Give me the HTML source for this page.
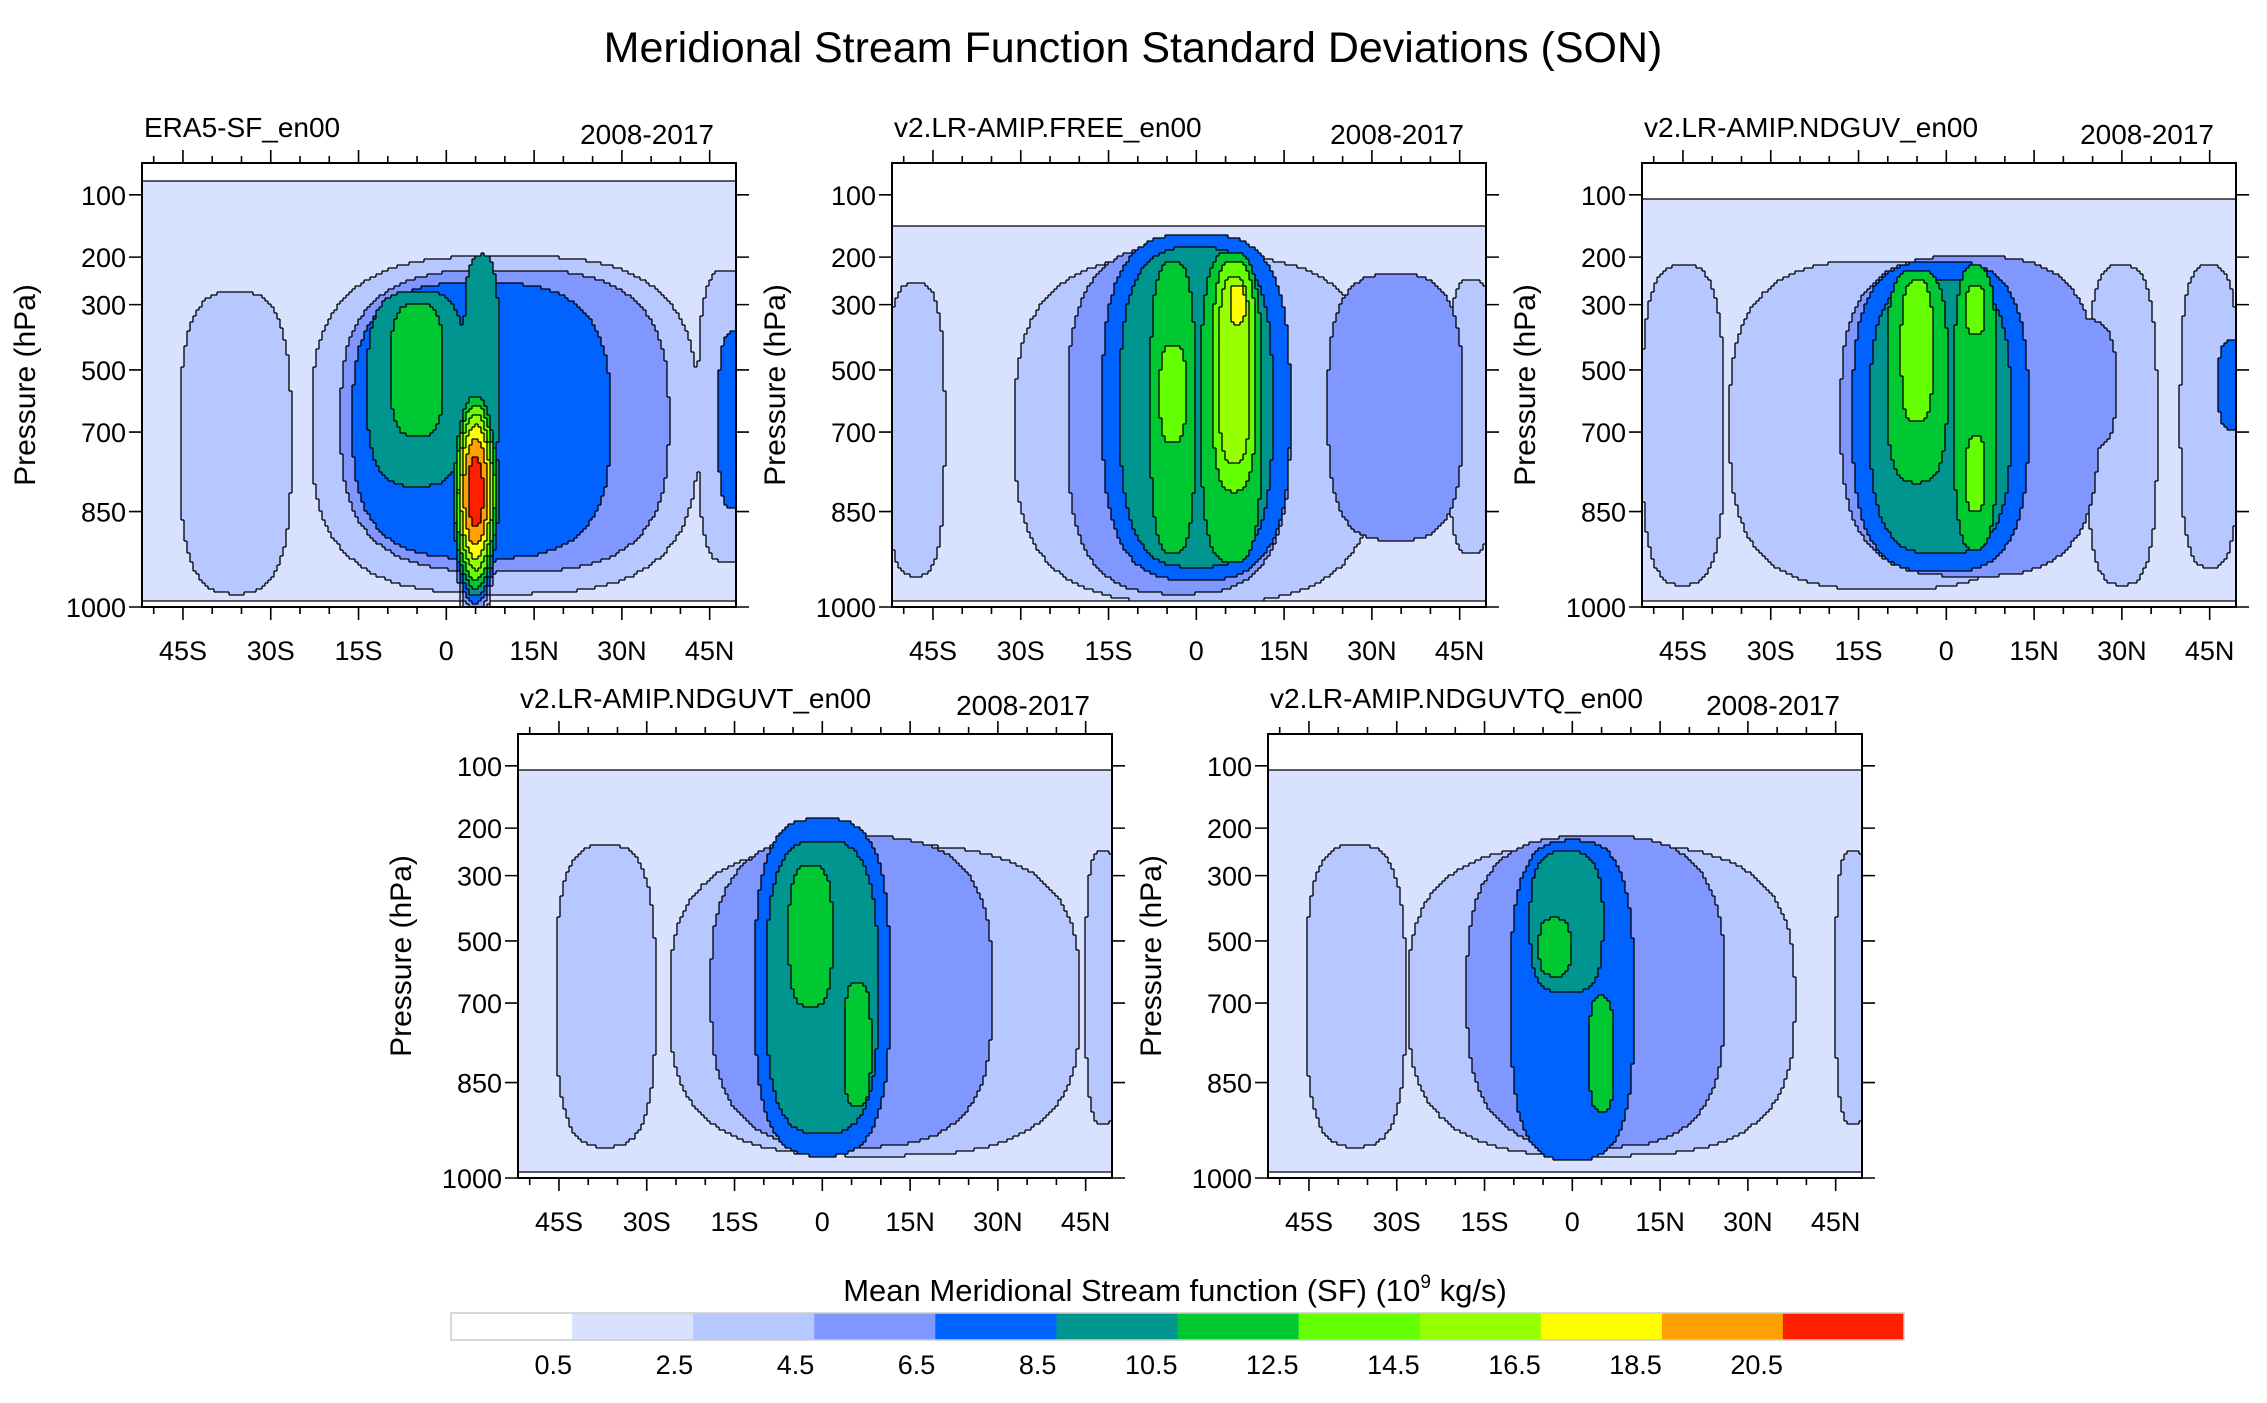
<!DOCTYPE html>
<html><head><meta charset="utf-8">
<style>
html,body{margin:0;padding:0;background:#fff;}
svg{display:block;font-family:"Liberation Sans",sans-serif;}
</style></head>
<body>
<svg id="fig" width="2267" height="1403" viewBox="0 0 2267 1403" xmlns="http://www.w3.org/2000/svg">
<rect x="0" y="0" width="2267" height="1403" fill="#fff"/>
<text x="1133" y="62" font-size="43" text-anchor="middle">Meridional Stream Function Standard Deviations (SON)</text>
<g id="panels"></g>
<g id="colorbar">
<text x="1175" y="1301" font-size="31" text-anchor="middle">Mean Meridional Stream function (SF) (10<tspan font-size="19" dy="-13">9</tspan><tspan dy="13"> kg/s)</tspan></text>
</g>
</svg>
<script>
// ---- data ----
const levels = [0.5,2.5,4.5,6.5,8.5,10.5,12.5,14.5,16.5,18.5,20.5];
const levelLabels = ["0.5","2.5","4.5","6.5","8.5","10.5","12.5","14.5","16.5","18.5","20.5"];
const colors = ["#ffffff","#d8e2ff","#b6c8ff","#8097ff","#0062ff","#00968f","#00c832","#64ff00","#96ff00","#ffff00","#ffa000","#ff1e00"];
const latTicks = [-45,-30,-15,0,15,30,45];
const latLabels = ["45S","30S","15S","0","15N","30N","45N"];
const presTicks = [100,200,300,500,700,850,1000];
const presLabels = ["100","200","300","500","700","850","1000"];
const panelTitles = ["ERA5-SF_en00","v2.LR-AMIP.FREE_en00","v2.LR-AMIP.NDGUV_en00","v2.LR-AMIP.NDGUVT_en00","v2.LR-AMIP.NDGUVTQ_en00"];
const periodLabel = "2008-2017";
// features: [lat, pressure hPa, lat half-width, frac half-height, value, shape exponent (0 = peak)]
const era5Blobs = [[0,566,80,0.4725,1.5,20],[-36,720,9.5,0.34,3.5,3],[10,677,33,0.38,3.5,3],[48,649,5,0.33,3.5,3],[10,663,28,0.34,5.5,3],[49,663,2.5,0.2,7.5,3],[6,663,22,0.31,7.5,3],[-5,560,8.5,0.22,9.5,3],[-5,500,4.5,0.15,11.5,3],[6,500,3,0.26,9.5,3],[5,813,5,0.3,22,0]];
const freeBlobs = [[0,638,80,0.4225,1.5,20],[-48,691,5,0.33,3.5,3],[0,691,31,0.39,3.5,3],[47,649,4,0.31,3.5,3],[-3,663,19,0.39,5.5,3],[34,620,11.5,0.3,5.5,3],[0,620,16,0.39,7.5,3],[0,620,13,0.36,9.5,3],[-4,620,3.8,0.33,11.5,3],[6,620,5.2,0.35,11.5,3],[6.5,520,3.7,0.26,13.5,3],[6.5,500,2.7,0.21,15.5,3],[7,300,1.3,0.045,17.5,3],[-4,577,2.2,0.11,13.5,3]];
const nguvBlobs = [[0,595,80,0.4525,1.5,20],[-45,677,7,0.36,3.5,3],[-10,677,27,0.37,3.5,3],[30,677,6,0.36,3.5,3],[45,649,5,0.34,3.5,3],[4,649,22,0.36,5.5,3],[23,549,6,0.15,5.5,3],[49,549,2.5,0.1,7.5,3],[-1,649,15,0.35,7.5,3],[-1,649,12,0.31,9.5,3],[-5,520,5.2,0.24,11.5,3],[5,620,3.7,0.32,11.5,3],[-5,443,2.7,0.16,13.5,3],[5,779,1.6,0.085,13.5,3],[5,315,1.6,0.055,13.5,3]];
const nguvtBlobs = [[0,595,80,0.4525,1.5,20],[-37,677,8.5,0.34,3.5,3],[9,691,35,0.35,3.5,3],[48,649,3,0.31,3.5,3],[5,663,24,0.35,5.5,3],[0,649,11.5,0.38,7.5,3],[0,649,9.5,0.33,9.5,3],[-2,485,3.7,0.16,11.5,3],[6,779,2.3,0.14,11.5,3]];
const nguvtqBlobs = [[0,595,80,0.4525,1.5,20],[-37,677,8.5,0.34,3.5,3],[5,691,33,0.35,3.5,3],[48,649,3,0.31,3.5,3],[4,663,22,0.35,5.5,3],[0,691,10.5,0.36,7.5,3],[-1,443,6.2,0.16,9.5,3],[-3,520,2.7,0.065,11.5,3],[5,796,2.1,0.13,11.5,3]];

// ---- layout ----
const NS="http://www.w3.org/2000/svg";
const PW=594, PH=444, LAT0=-52, LAT1=49.5;
const panelPos=[[142,163],[892,163],[1642,163],[518,734],[1268,734]];
const allBlobs=[era5Blobs,freeBlobs,nguvBlobs,nguvtBlobs,nguvtqBlobs];
const pAxisP=[50,100,200,300,500,700,850,1000];
const pAxisF=[0,0.0717,0.212,0.319,0.466,0.606,0.785,1];
function presToFrac(p){for(let i=1;i<pAxisP.length;i++){if(p<=pAxisP[i]){const t=(p-pAxisP[i-1])/(pAxisP[i]-pAxisP[i-1]);return pAxisF[i-1]+t*(pAxisF[i]-pAxisF[i-1]);}}return 1;}
function xScale(lat){return (lat-LAT0)/(LAT1-LAT0)*PW;}
function yScale(p){return presToFrac(p)*PH;}
function mk(tag,attrs,parent){const e=document.createElementNS(NS,tag);for(const k in attrs)e.setAttribute(k,attrs[k]);parent.appendChild(e);return e;}
function field(blobs,lat,f){let v=0;for(const b of blobs){const dx=Math.abs((lat-b[0])/b[2]),dy=Math.abs((f-presToFrac(b[1]))/b[3]);let val=0;
    if(b[5]>0){const d=Math.pow(Math.pow(dx,b[5])+Math.pow(dy,b[5]),1/b[5]);if(d<1)val=b[4];}
    else{const d2=dx*dx+dy*dy;if(d2<1)val=b[4]*(1-d2);}
    if(val>v)v=val;}return v;}
function lvl(v){let i=0;while(i<levels.length&&v>=levels[i])i++;return i;}

const panelsG=document.getElementById('panels');
const C=3;
panelPos.forEach((pos,pi)=>{
  const g=mk('g',{transform:`translate(${pos[0]},${pos[1]})`},panelsG);
  
  
  const nx=Math.ceil(PW/C), ny=Math.ceil(PH/C);
  const grid=[];
  for(let j=0;j<ny;j++){const row=[];const f=(j+0.5)*C/PH;
    for(let i=0;i<nx;i++){const lat=LAT0+(i+0.5)*C/PW*(LAT1-LAT0);row.push(lvl(field(allBlobs[pi],lat,f)));}
    grid.push(row);}
  const fg=mk('g',{},g);
  
  
  for(let j=0;j<ny;j++){let i=0;while(i<nx){let k=i;while(k<nx&&grid[j][k]===grid[j][i])k++;
      const r=mk('rect',{x:i*C,y:j*C,width:Math.min((k-i)*C,PW-i*C)+0.5,height:Math.min(C,PH-j*C)+0.5,fill:colors[grid[j][i]]},fg);
      
      
      i=k;}}
  let d='';
  for(let j=0;j<ny;j++)for(let i=0;i<nx;i++){
    if(i+1<nx&&grid[j][i+1]!==grid[j][i])d+=`M${(i+1)*C} ${j*C}v${C}`;
    if(j+1<ny&&grid[j+1][i]!==grid[j][i])d+=`M${i*C} ${(j+1)*C}h${C}`;}
  const ln=mk('path',{d:d,stroke:'#000','stroke-width':1.3,fill:'none'},g);
  
  
  const fr=mk('rect',{x:0,y:0,width:PW,height:PH,fill:'none',stroke:'#000','stroke-width':2},g);
  
  
  let td='';
  for(let lat=-50;lat<=LAT1;lat+=5){const x=xScale(lat);const L=(lat%15===0)?13:7;td+=`M${x} ${PH}v${L}M${x} 0v${-L}`;}
  presTicks.forEach(p=>{const y=yScale(p);td+=`M0 ${y}h-13M${PW} ${y}h13`;});
  const tk=mk('path',{d:td,stroke:'#000','stroke-width':1.6,fill:'none'},g);
  
  
  latTicks.forEach((lat,i)=>{const t=mk('text',{x:xScale(lat),y:PH+53,'font-size':27,'text-anchor':'middle'},g);t.textContent=latLabels[i];
    
    });
  presTicks.forEach((p,i)=>{const t=mk('text',{x:-16,y:yScale(p)+10,'font-size':27,'text-anchor':'end'},g);t.textContent=presLabels[i];
    
    });
  const yt=mk('text',{x:0,y:0,'font-size':30,'text-anchor':'middle',transform:`translate(-107 ${PH/2}) rotate(-90)`},g);yt.textContent='Pressure (hPa)';
  
  
  const t1=mk('text',{x:2,y:-26,'font-size':28},g);t1.textContent=panelTitles[pi];
  
  
  const t2=mk('text',{x:PW-22,y:-19,'font-size':28,'text-anchor':'end'},g);t2.textContent=periodLabel;
  
  
});

// colorbar
const cb=document.getElementById('colorbar');
const CBX=451,CBW=1453,CBY=1313,CBH=27,bw=CBW/colors.length;
colors.forEach((c,i)=>{const r=mk('rect',{x:CBX+i*bw,y:CBY,width:bw+0.5,height:CBH,fill:c},cb);
  
  });
const cbf=mk('rect',{x:CBX,y:CBY,width:CBW,height:CBH,fill:'none',stroke:'#ccc','stroke-width':1.5},cb);


levelLabels.forEach((s,i)=>{const t=mk('text',{x:CBX+(i+1)*bw,y:1374,'font-size':27,'text-anchor':'end'},cb);t.textContent=s;
  
  });
</script>
</body></html>
